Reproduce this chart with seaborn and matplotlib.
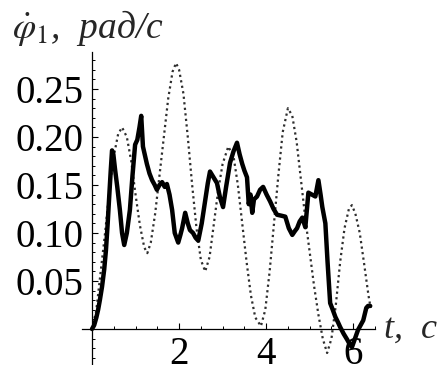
import pandas as pd
import seaborn as sns
import matplotlib.pyplot as plt
from matplotlib.ticker import MultipleLocator, FixedLocator

# measured angular velocity (solid)
t_meas = [0, 0.05, 0.1, 0.14, 0.18, 0.23, 0.28, 0.32, 0.36, 0.39, 0.43, 0.46,
          0.49, 0.53, 0.58, 0.64, 0.69, 0.74, 0.8, 0.87, 0.93, 0.99, 1.04, 1.09,
          1.13, 1.17, 1.22, 1.26, 1.32, 1.38, 1.44, 1.49, 1.55, 1.61, 1.67, 1.72,
          1.78, 1.84, 1.9, 1.98, 2.03, 2.07, 2.14, 2.2, 2.25, 2.32, 2.38, 2.44,
          2.52, 2.6, 2.66, 2.71, 2.79, 2.87, 2.94, 3.01, 3.08, 3.17, 3.25, 3.33,
          3.39, 3.45, 3.5, 3.56, 3.6, 3.64, 3.68, 3.72, 3.79, 3.86, 3.93, 4.01,
          4.09, 4.17, 4.25, 4.35, 4.44, 4.52, 4.6, 4.66, 4.71, 4.77, 4.83, 4.9,
          4.97, 5.05, 5.13, 5.2, 5.25, 5.29, 5.36, 5.41, 5.47, 5.53, 5.59, 5.65,
          5.7, 5.78, 5.86, 5.92, 5.97, 6.04, 6.11, 6.17, 6.23, 6.3, 6.34, 6.39]
w_meas = [0, 0.004, 0.012, 0.02, 0.03, 0.044, 0.062, 0.082, 0.11, 0.134, 0.165, 0.186,
          0.182, 0.166, 0.148, 0.124, 0.1, 0.0875, 0.1, 0.124, 0.16, 0.192, 0.197, 0.21,
          0.222, 0.19, 0.18, 0.172, 0.162, 0.155, 0.15, 0.145, 0.15, 0.153, 0.148, 0.151,
          0.14, 0.124, 0.1, 0.09, 0.098, 0.105, 0.121, 0.11, 0.103, 0.1, 0.095, 0.092,
          0.11, 0.134, 0.152, 0.164, 0.158, 0.152, 0.137, 0.127, 0.148, 0.173, 0.185, 0.194,
          0.182, 0.172, 0.165, 0.158, 0.13, 0.14, 0.121, 0.135, 0.138, 0.145, 0.148, 0.14,
          0.133, 0.125, 0.119, 0.118, 0.117, 0.105, 0.098, 0.102, 0.105, 0.112, 0.116, 0.106,
          0.142, 0.14, 0.138, 0.155, 0.14, 0.127, 0.11, 0.07, 0.027, 0.02, 0.0125, 0.007,
          0.002, -0.005, -0.011, -0.016, -0.019, -0.01, -0.001, 0.004, 0.009, 0.022, 0.024, 0.024]

# model angular velocity (dotted)
t_model = [0, 0.1, 0.2, 0.3, 0.4, 0.5, 0.6, 0.69, 0.8, 0.9, 1.0, 1.1, 1.2, 1.27,
           1.35, 1.45, 1.55, 1.65, 1.75, 1.85, 1.93, 2.0, 2.1, 2.2, 2.3, 2.4, 2.5, 2.6,
           2.7, 2.8, 2.9, 3.0, 3.13, 3.25, 3.35, 3.45, 3.55, 3.65, 3.75, 3.88,
           3.98, 4.08, 4.18, 4.28, 4.38, 4.5, 4.6, 4.7, 4.8, 4.9, 5.0, 5.1, 5.2, 5.3, 5.4,
           5.5, 5.6, 5.7, 5.8, 5.9, 5.97, 6.05, 6.15, 6.25, 6.35, 6.4]
w_model = [0, 0.02, 0.06, 0.1, 0.145, 0.18, 0.203, 0.21, 0.2, 0.175, 0.14, 0.108, 0.085, 0.079,
           0.09, 0.12, 0.16, 0.2, 0.24, 0.268, 0.277, 0.27, 0.245, 0.2, 0.15, 0.105, 0.072, 0.06,
           0.075, 0.11, 0.145, 0.172, 0.19, 0.18, 0.15, 0.11, 0.07, 0.035, 0.012, 0.003,
           0.02, 0.06, 0.11, 0.16, 0.205, 0.23, 0.222, 0.195, 0.155, 0.115, 0.08, 0.045, 0.015, -0.01, -0.025,
           -0.01, 0.025, 0.07, 0.105, 0.125, 0.129, 0.12, 0.1, 0.068, 0.035, 0.022]

y_ticks = [0.05, 0.10, 0.15, 0.20, 0.25]
y_labels = ["0.05", "0.10", "0.15", "0.20", "0.25"]
x_ticks = [2, 4, 6]


def main():
    sns.set_theme(style="white")
    plt.rcParams["font.family"] = ["Liberation Serif", "DejaVu Serif"]
    plt.rcParams["mathtext.fontset"] = "stix"

    fig = plt.figure(figsize=(4.43, 3.65), dpi=100)
    ax = fig.add_axes([82 / 443, 0, 293 / 443, 313 / 365])

    meas = pd.DataFrame({"t": t_meas, "w": w_meas})
    model = pd.DataFrame({"t": t_model, "w": w_model})

    sns.lineplot(data=model, x="t", y="w", ax=ax, color="#2e2e2e", lw=1.6,
                 linestyle=(0, (1.0, 1.5)), sort=False, estimator=None)
    sns.lineplot(data=meas, x="t", y="w", ax=ax, color="black", lw=3.2,
                 sort=False, estimator=None)

    ax.set_xlim(-0.23, 6.5)
    ax.set_ylim(-0.0375, 0.2885)
    ax.set_xlabel("")
    ax.set_ylabel("")

    for side in ["top", "right"]:
        ax.spines[side].set_visible(False)
    for side in ["left", "bottom"]:
        ax.spines[side].set_position(("data", 0))
        ax.spines[side].set_color("black")
        ax.spines[side].set_linewidth(0.9)

    ax.set_xticks(x_ticks)
    ax.set_xticklabels([str(v) for v in x_ticks])
    ax.xaxis.set_minor_locator(MultipleLocator(0.5))
    ax.set_yticks(y_ticks)
    ax.set_yticklabels(y_labels)
    ax.yaxis.set_minor_locator(FixedLocator([i / 100 for i in range(-3, 29)]))
    ax.tick_params(which="both", direction="in", colors="black", labelsize=28,
                   bottom=True, left=True)
    ax.tick_params(which="major", length=4, width=0.8)
    ax.tick_params(which="minor", length=2.5, width=0.7)
    ax.tick_params(axis="x", pad=5)
    ax.tick_params(axis="y", pad=6)

    fig.text(12 / 443, 1 - 38 / 365, r"$\dot{\varphi}_\mathit{1}$,  рад/с",
             fontsize=27, fontstyle="italic", va="baseline", ha="left")
    fig.text(384 / 443, 1 - 338 / 365, "t,  с", fontsize=26, fontstyle="italic",
             va="baseline", ha="left")

    fig.savefig("out.png", dpi=100)


if __name__ == "__main__":
    main()
